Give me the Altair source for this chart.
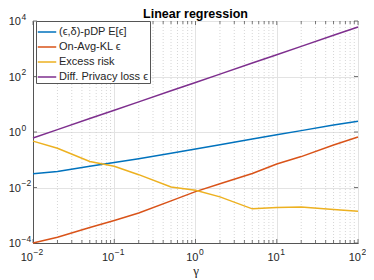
import altair as alt
import pandas as pd

gamma = [0.01, 0.02, 0.05, 0.1, 0.2, 0.5, 1, 2, 5, 10, 20, 50, 100]
pdp = [0.031, 0.038, 0.058, 0.080, 0.108, 0.17, 0.245, 0.35, 0.56, 0.79, 1.12, 1.78, 2.45]
kl = [1.0e-4, 1.6e-4, 3.6e-4, 6.5e-4, 1.2e-3, 3.3e-3, 7.1e-3, 0.0137, 0.032, 0.07, 0.13, 0.34, 0.66]
excess = [0.47, 0.26, 0.087, 0.058, 0.029, 0.0105, 0.008, 0.0046, 0.0017, 0.0019, 0.002, 0.0016, 0.0014]
dp = [0.61, 1.22, 3.05, 6.1, 12.2, 30.5, 61, 122, 305, 610, 1220, 3050, 6100]

chart_title = ["Linear regression"]
series_names = ["(ϵ,δ)-pDP E[ϵ]", "On-Avg-KL ϵ", "Excess risk", "Diff. Privacy loss ϵ"]
series_colors = ["#0072BD", "#D95319", "#EDB120", "#7E2F8E"]

x_major = [0.01, 0.1, 1, 10, 100]
x_exp = ["−2", "−1", "0", "1", "2"]
x_minor = [m * d for d in [0.01, 0.1, 1, 10] for m in range(2, 10)]
y_major = [1e-4, 1e-2, 1, 1e2, 1e4]
y_exp = ["−4", "−2", "0", "2", "4"]

rows = []
for name, vals in zip(series_names, [pdp, kl, excess, dp]):
    for g, v in zip(gamma, vals):
        rows.append({"gamma": g, "value": v, "series": name})
df = pd.DataFrame(rows)

W, H = 325, 222
FONT = "Liberation Sans"
TXT = "#262626"
xscale = alt.Scale(type="log", domain=[0.01, 100], nice=False)
yscale = alt.Scale(type="log", domain=[1e-4, 1e4], nice=False)

xaxis = alt.Axis(values=x_major, labels=False, grid=True, gridColor="#e3e3e3",
                 ticks=False, domainColor="#555", titleFont="Liberation Serif",
                 titleFontSize=13, titleFontWeight="normal", titleColor=TXT,
                 titleBaseline="alphabetic", titlePadding=31)
yaxis = alt.Axis(values=y_major, labels=False, grid=True, gridColor="#e3e3e3",
                 ticks=False, domainColor="#555")

minor_df = pd.DataFrame({"gamma": x_minor})
xmaj_df = pd.DataFrame({"gamma": x_major, "exp": x_exp, "base": ["10"] * 5})
ymaj_df = pd.DataFrame({"value": y_major, "exp": y_exp, "base": ["10"] * 5})
xneg = xmaj_df[xmaj_df["gamma"] < 1]
xpos = xmaj_df[xmaj_df["gamma"] >= 1]


def X():
    return alt.X("gamma:Q", scale=xscale, title="γ", axis=xaxis)


def Y():
    return alt.Y("value:Q", scale=yscale, title=None, axis=yaxis)


minor_grid = alt.Chart(minor_df).mark_rule(color="#cccccc", strokeWidth=0.8, strokeDash=[1, 2]).encode(
    x=X(), y=alt.value(0), y2=alt.value(H))

lines = alt.Chart(df).mark_line(strokeWidth=1.5).encode(
    x=X(), y=Y(),
    color=alt.Color("series:N", sort=series_names,
                    scale=alt.Scale(domain=series_names, range=series_colors),
                    legend=alt.Legend(title=None, orient="none", legendX=3, legendY=0,
                                      symbolType="stroke", symbolStrokeWidth=1.5, symbolSize=340,
                                      fillColor="white", strokeColor="#555", padding=1,
                                      labelFont=FONT, labelFontSize=11, labelColor=TXT,
                                      rowPadding=-7.5, labelOffset=2)),
)


def xticks(data, y0, y1):
    return alt.Chart(data).mark_rule(color="#555", strokeWidth=0.8).encode(
        x=X(), y=alt.value(y0), y2=alt.value(y1))


def yticks(x0, x1):
    return alt.Chart(ymaj_df).mark_rule(color="#555", strokeWidth=0.8).encode(
        y=Y(), x=alt.value(x0), x2=alt.value(x1))


def xlabels(data, shift):
    base = alt.Chart(data).mark_text(font=FONT, fontSize=11, color=TXT, align="right",
                                     baseline="alphabetic", dx=shift).encode(
        x=X(), y=alt.value(H + 17.5), text="base:N")
    exp = alt.Chart(data).mark_text(font=FONT, fontSize=8.5, color=TXT, align="left",
                                    baseline="alphabetic", dx=shift + 0.5).encode(
        x=X(), y=alt.value(H + 11.5), text="exp:N")
    return [base, exp]


ybase = alt.Chart(ymaj_df).mark_text(font=FONT, fontSize=11, color=TXT, align="right",
                                     baseline="alphabetic", dy=4).encode(
    y=Y(), x=alt.value(-12), text="base:N")
yexp = alt.Chart(ymaj_df).mark_text(font=FONT, fontSize=8.5, color=TXT, align="left",
                                    baseline="alphabetic", dy=-1.5).encode(
    y=Y(), x=alt.value(-11.5), text="exp:N")

title = alt.Chart(pd.DataFrame({"t": chart_title})).mark_text(
    font=FONT, fontSize=12.5, fontWeight="bold", color="black", align="center",
    baseline="alphabetic").encode(x=alt.value(W / 2), y=alt.value(-3), text="t:N")

chart = alt.layer(
    minor_grid,
    xticks(xmaj_df, H, H - 4), xticks(minor_df, H, H - 3),
    xticks(xmaj_df, 0, 4), xticks(minor_df, 0, 3),
    yticks(0, 4), yticks(W, W - 4),
    *xlabels(xneg, 0), *xlabels(xpos, 3),
    ybase, yexp, title,
    lines,
).properties(
    width=W, height=H,
    autosize=alt.AutoSizeParams(type="none"),
    padding={"left": 25, "top": 13, "right": 8, "bottom": 36},
).configure_view(stroke="#555", strokeWidth=1)

chart.save("out.html", embed_options={"renderer": "svg", "actions": False})
